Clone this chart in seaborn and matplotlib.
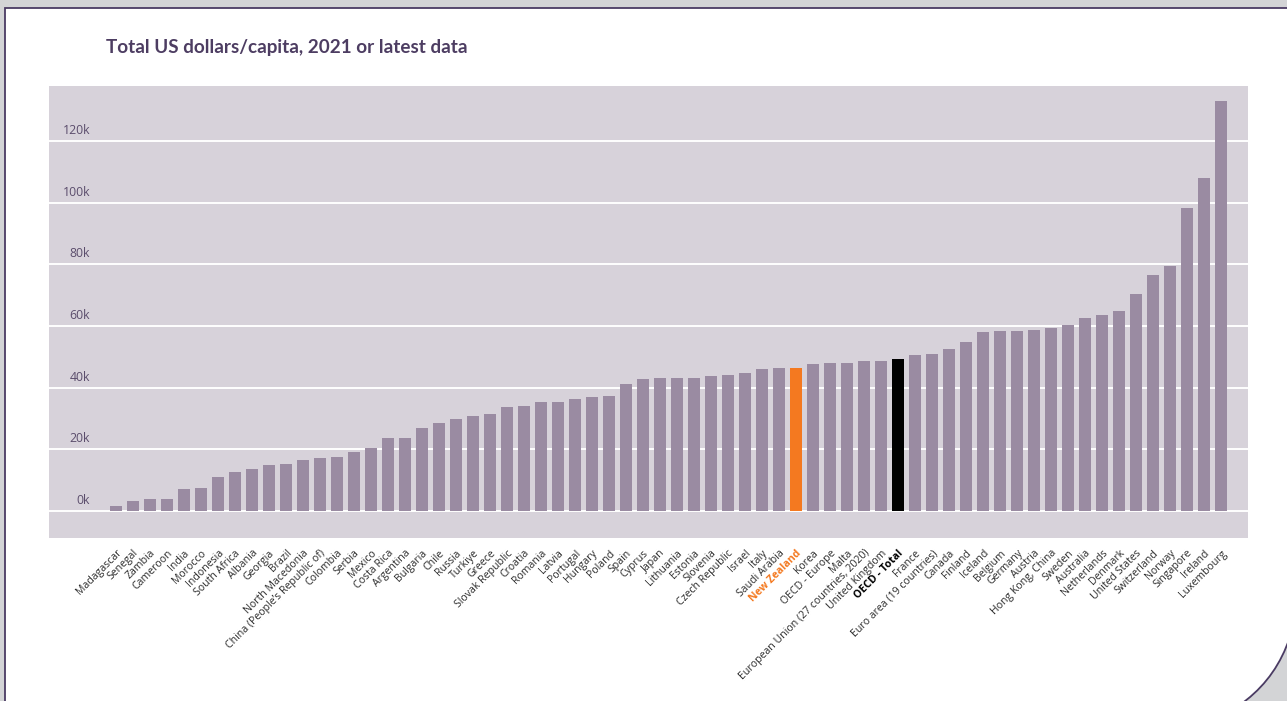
import matplotlib
matplotlib.use("Agg")
import matplotlib.pyplot as plt
from matplotlib.path import Path
from matplotlib.patches import PathPatch
import matplotlib.transforms as mtransforms
import seaborn as sns
import pandas as pd

# Countries / aggregates, sorted by spending
countries = [
    "Madagascar", "Senegal", "Zambia", "Cameroon", "India", "Morocco",
    "Indonesia", "South Africa", "Albania", "Georgia", "Brazil",
    "North Macedonia", "China (People\u2019s Republic of)", "Colombia", "Serbia",
    "Mexico", "Costa Rica", "Argentina", "Bulgaria", "Chile", "Russia",
    "Turkiye", "Greece", "Slovak Republic", "Croatia", "Romania", "Latvia",
    "Portugal", "Hungary", "Poland", "Spain", "Cyprus", "Japan", "Lithuania",
    "Estonia", "Slovenia", "Czech Republic", "Israel", "Italy", "Saudi Arabia",
    "New Zealand", "Korea", "OECD - Europe", "Malta",
    "European Union (27 countries, 2020)", "United Kingdom", "OECD - Total",
    "France", "Euro area (19 countries)", "Canada", "Finland", "Iceland",
    "Belgium", "Germany", "Austria", "Hong Kong, China", "Sweden",
    "Australia", "Netherlands", "Denmark", "United States", "Switzerland",
    "Norway", "Singapore", "Ireland", "Luxembourg",
]

# Total US dollars per capita
usd_per_capita = [
    1600, 3200, 3900, 3900, 7100, 7500,
    11000, 12600, 13600, 14900, 15200,
    16500, 17100, 17400, 19100,
    20400, 23600, 23600, 26900, 28500, 29800,
    30800, 31400, 33700, 34000, 35300, 35300,
    36300, 36900, 37300, 41200, 42800, 43100, 43100,
    43100, 43800, 44100, 44700, 46000, 46400,
    46400, 47600, 48000, 48000,
    48600, 48600, 49300,
    50600, 50900, 52500, 54800, 58000,
    58300, 58300, 58700, 59300, 60300,
    62600, 63500, 64800, 70300, 76500,
    79400, 98200, 107900, 132900,
]

y_ticks = [0, 20000, 40000, 60000, 80000, 100000, 120000]
y_tick_labels = ["0k", "20k", "40k", "60k", "80k", "100k", "120k"]

title = "Total US dollars/capita, 2021 or latest data"

BAR = "#9a8ba2"
HIGHLIGHT = {"New Zealand": "#f47920", "OECD - Total": "#000000"}
PANEL_BG = "#d7d2da"
TEXT_PURPLE = "#4d3d62"
PAGE_GREY = "#d3d4d6"

sns.set_theme(style="white")
plt.rcParams["font.family"] = ["Open Sans", "DejaVu Sans"]

W, H = 1287, 701
fig = plt.figure(figsize=(W / 100, H / 100), dpi=100)
fig.patch.set_facecolor(PAGE_GREY)

# Page card with a rounded lower-right corner (pixel coordinates)
bg = fig.add_axes([0, 0, 1, 1], zorder=-5)
bg.set_xlim(0, W)
bg.set_ylim(H, 0)
bg.axis("off")
verts = [
    (5, 720), (5, 8), (1300, 8), (1300, 580),
    (1296, 650), (1270, 690), (1222, 716),
    (5, 720),
]
codes = [Path.MOVETO, Path.LINETO, Path.LINETO, Path.LINETO,
         Path.CURVE4, Path.CURVE4, Path.CURVE4, Path.CLOSEPOLY]
bg.add_patch(PathPatch(Path(verts, codes), facecolor="white",
                       edgecolor="#4a3b63", linewidth=1.3))

# Bar chart
left, right, top, bottom = 49, 1248, 86, 538
ax = fig.add_axes([left / W, 1 - bottom / H, (right - left) / W, (bottom - top) / H])
ax.set_facecolor(PANEL_BG)

df = pd.DataFrame({"country": countries, "value": usd_per_capita})
palette = {c: HIGHLIGHT.get(c, BAR) for c in countries}
sns.barplot(data=df, x="country", y="value", hue="country", palette=palette,
            order=countries, hue_order=countries, legend=False, width=0.71,
            saturation=1, linewidth=0, edgecolor="none", ax=ax, zorder=3)

n = len(countries)
ax.set_xlim(-3.94, n - 1 + 1.59)
ax.set_ylim(-8750, 137800)

for s in ax.spines.values():
    s.set_visible(False)

ax.set_yticks(y_ticks)
ax.set_yticklabels([])
ax.tick_params(axis="y", length=0)
ax.yaxis.grid(True, color="white", linewidth=1.4, zorder=1)
ax.set_axisbelow(True)
ax.set_xlabel("")
ax.set_ylabel("")

# Value-axis labels sit just above each gridline, inside the panel
trans = mtransforms.blended_transform_factory(ax.transAxes, ax.transData)
for v, lab in zip(y_ticks, y_tick_labels):
    ax.text(0.0345, v + 1300, lab, transform=trans, ha="right", va="bottom",
            fontsize=8.8, color="#5b4d6c")

# Rotated category labels
ax.set_xticks(range(n))
ax.set_xticklabels(countries, rotation=45, ha="right", va="top",
                   rotation_mode="anchor", fontsize=7.6, color="#2b2b2b")
ax.tick_params(axis="x", length=0, pad=7)
for t in ax.get_xticklabels():
    name = t.get_text()
    if name == "New Zealand":
        t.set_color(HIGHLIGHT[name])
        t.set_fontweight("bold")
    elif name == "OECD - Total":
        t.set_color("#000000")
        t.set_fontweight("bold")

fig.text(106 / W, 1 - 48 / H, title, ha="left", va="center",
         fontsize=13.6, fontweight="bold", color=TEXT_PURPLE,
         family=["Lato", "DejaVu Sans"])

fig.savefig("out.png", dpi=100, facecolor=fig.get_facecolor())
